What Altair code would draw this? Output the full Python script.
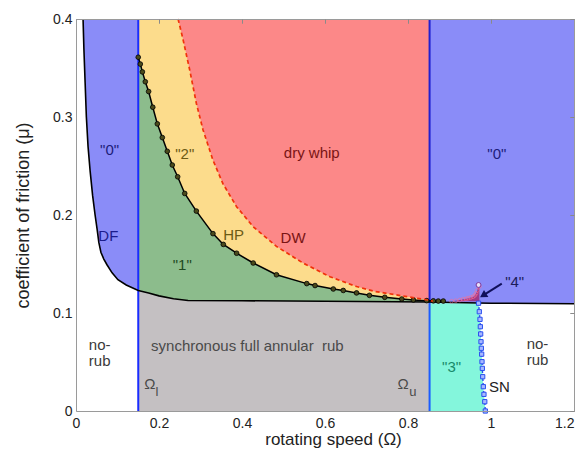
import altair as alt
import pandas as pd

# ---------------- data ----------------
# DF boundary (black solid, left)
df_x = [0.017, 0.019, 0.022, 0.025, 0.029, 0.034, 0.040, 0.046, 0.051, 0.055, 0.060, 0.067, 0.075, 0.087, 0.101, 0.121, 0.150]
df_y = [0.400, 0.370, 0.335, 0.300, 0.270, 0.245, 0.220, 0.200, 0.185, 0.172, 0.162, 0.155, 0.149, 0.141, 0.134, 0.1286, 0.123]

# lower boundary of rub regions (black solid)
bnd_x = [0.150, 0.175, 0.200, 0.235, 0.270, 0.400, 0.600, 0.852, 1.000, 1.200]
bnd_y = [0.123, 0.1205, 0.1175, 0.1145, 0.1128, 0.1125, 0.1120, 0.1112, 0.1100, 0.1095]

# HP curve (black with dots)
hp_x = [0.150, 0.155, 0.160, 0.167, 0.175, 0.185, 0.196, 0.208, 0.220, 0.232, 0.245, 0.262, 0.290, 0.330,
        0.355, 0.387, 0.427, 0.483, 0.556, 0.576, 0.620, 0.644, 0.676, 0.707, 0.744, 0.785, 0.813, 0.845,
        0.861, 0.873, 0.885]
hp_y = [0.361, 0.354, 0.346, 0.336, 0.326, 0.310, 0.293, 0.279, 0.265, 0.251, 0.239, 0.222, 0.204, 0.181,
        0.170, 0.161, 0.151, 0.139, 0.130, 0.128, 0.1245, 0.123, 0.1205, 0.118, 0.116, 0.1143, 0.1133, 0.1126,
        0.1124, 0.1122, 0.1122]

# DW curve (red dashed)
dw_x = [0.246, 0.258, 0.274, 0.290, 0.306, 0.330, 0.354, 0.387, 0.427, 0.483, 0.547, 0.612, 0.676, 0.720, 0.765, 0.800, 0.845, 0.860]
dw_y = [0.400, 0.379, 0.348, 0.314, 0.287, 0.256, 0.232, 0.2085, 0.188, 0.168, 0.151, 0.137, 0.127, 0.122, 0.119, 0.1165, 0.1135, 0.112]

# SN curve (blue dotted with squares)
sn_x = [0.9700, 0.9718, 0.9735, 0.9743, 0.9751, 0.9759, 0.9767, 0.9775, 0.9783, 0.9791, 0.9800, 0.9815, 0.9830, 0.9850, 0.9863]
sn_y = [0.1100, 0.1013, 0.0935, 0.0860, 0.0786, 0.0707, 0.0640, 0.0580, 0.0503, 0.0435, 0.0350, 0.0248, 0.0170, 0.0095, 0.0000]

# region "4" spike
sp_x = [0.905, 0.915, 0.925, 0.933, 0.940, 0.945, 0.951, 0.957, 0.961, 0.964, 0.967, 0.970, 0.972]
sp_y = [0.112, 0.1125, 0.1133, 0.114, 0.1145, 0.115, 0.1158, 0.1166, 0.118, 0.120, 0.123, 0.1286, 0.127]
peak_x = [0.970]
peak_y = [0.1286]

omega_l = 0.15
omega_u = 0.852
mu_max = 0.4
x_max = 1.2

x_ticks = [0, 0.2, 0.4, 0.6, 0.8, 1.0, 1.2]
y_ticks = [0, 0.1, 0.2, 0.3, 0.4]

# annotations: text, x, y, colour
ann_text = ['"0"', 'DF', '"2"', 'HP', 'dry whip', 'DW', '"1"', '"0"', '"4"', '"3"',
            'synchronous full annular \u00a0rub', 'no-', 'rub', 'no-', 'rub', 'SN', '\u03a9', '\u03a9']
ann_x = [0.081, 0.078, 0.262, 0.380, 0.568, 0.523, 0.256, 1.014, 1.057, 0.905,
         0.413, 0.057, 0.057, 1.112, 1.112, 1.020, 0.178, 0.788]
ann_y = [0.266, 0.179, 0.262, 0.1796, 0.263, 0.177, 0.149, 0.262, 0.132, 0.0444,
         0.066, 0.067, 0.051, 0.068, 0.052, 0.024, 0.0276, 0.0276]
ann_col = ['#1c1c7a', '#1c1c8c', '#6b5a14', '#6b5a14', '#7a1414', '#7a1414', '#1f4a1f', '#1c1c7a', '#1c1c5a', '#188a6a',
           '#4a4a4a', '#3a3a3a', '#3a3a3a', '#3a3a3a', '#3a3a3a', '#222222', '#4a4a4a', '#4a4a4a']
sub_text = ['l', 'u']
sub_x = [0.195, 0.812]
sub_y = [0.019, 0.019]

arrow_x = [1.026, 0.981]
arrow_y = [0.130, 0.118]

FONT = "Liberation Sans"

# ---------------- tables ----------------
df_tab = pd.DataFrame({"x": df_x, "y": df_y})
hp_tab = pd.DataFrame({"x": hp_x, "y": hp_y})
dw_tab = pd.DataFrame({"x": dw_x, "y": dw_y})
bnd_tab = pd.DataFrame({"x": bnd_x, "y": bnd_y})
sn_tab = pd.DataFrame({"x": sn_x, "y": sn_y, "x0": omega_u})
sp_tab = pd.DataFrame({"x": sp_x, "y": sp_y, "y0": 0.112})
peak_tab = pd.DataFrame({"x": peak_x, "y": peak_y})
green_tab = pd.DataFrame({"x": [v for v in hp_x if v <= omega_u] + [omega_u],
                          "y": [hp_y[i] for i, v in enumerate(hp_x) if v <= omega_u] + [0.1125]})
gray_tab = pd.DataFrame({"x": [v for v in bnd_x if v <= omega_u],
                         "y": [bnd_y[i] for i, v in enumerate(bnd_x) if v <= omega_u]})
red_tab = pd.DataFrame({"x": dw_x[:-1] + [omega_u], "y": dw_y[:-1] + [0.112]})
black_tab = pd.DataFrame({"x": df_x + bnd_x[1:], "y": df_y + bnd_y[1:]})
black_tab["o"] = range(len(black_tab))
yellow_tab = pd.DataFrame({"x": [omega_l], "x2": [omega_u], "y": [0.11], "y2": [mu_max]})
blue_r_tab = pd.DataFrame({"x": [omega_u], "x2": [x_max], "y": [0.1098], "y2": [mu_max]})
vline_tab = pd.DataFrame({"x": [omega_l, omega_u, omega_u], "y": [0, 0.1105, 0], "y2": [mu_max, mu_max, 0.1105],
                          "c": ["#1a2cff", "#2020d0", "#1a5cff"]})
ann_tab = pd.DataFrame({"t": ann_text, "x": ann_x, "y": ann_y, "c": ann_col})
sub_tab = pd.DataFrame({"t": sub_text, "x": sub_x, "y": sub_y})
arrow_tab = pd.DataFrame({"x": arrow_x, "y": arrow_y})

xs = alt.Scale(domain=[0, x_max], nice=False, zero=False)
ys = alt.Scale(domain=[0, mu_max], nice=False, zero=False)

common = dict(grid=False, zindex=1, labelFont=FONT, titleFont=FONT, labelFlush=False)


def X(field="x", axis=None):
    return alt.X(field, type="quantitative", scale=xs, axis=axis)


def Y(field="y", axis=None):
    return alt.Y(field, type="quantitative", scale=ys, axis=axis)


ax_x_main = alt.Axis(values=x_ticks, format=".1~f", ticks=False, domain=True, domainColor="#9a9a9a",
                     labelPadding=5, labelFontSize=14, labelColor="#222",
                     labelAlign=alt.condition("datum.value >= 1.15", alt.value("right"), alt.value("center")),
                     title="rotating speed (\u03a9)",
                     titleFontSize=17, titleFontWeight="normal", titleColor="#222",
                     titleBaseline="alphabetic", titleX=257, titleY=33, **common)
ax_y_main = alt.Axis(values=y_ticks, format=".1~f", ticks=False, domain=True, domainColor="#9a9a9a",
                     labelPadding=4, labelFontSize=14, labelColor="#222", title="coefficient of friction (\u03bc)",
                     titleFontSize=18, titleFontWeight="normal", titleColor="#222", titlePadding=20, **common)
ax_x_tick = alt.Axis(values=x_ticks, labels=False, ticks=True, tickSize=4, tickColor="#8a8a8a", domain=False,
                     offset=-4, title="", **common)
ax_y_tick = alt.Axis(values=y_ticks, labels=False, ticks=True, tickSize=4, tickColor="#8a8a8a", domain=False,
                     offset=-4, title="", **common)
ax_x_top = alt.Axis(orient="top", values=x_ticks, labels=False, ticks=False, domain=True, domainColor="#9a9a9a",
                    title="", **common)
ax_y_right = alt.Axis(orient="right", values=y_ticks, labels=False, ticks=False, domain=True, domainColor="#9a9a9a",
                      title="", **common)
ax_x_top_tick = alt.Axis(orient="top", values=x_ticks, labels=False, ticks=True, tickSize=4, tickColor="#8a8a8a",
                         domain=False, offset=-4, title="", **common)
ax_y_right_tick = alt.Axis(orient="right", values=y_ticks, labels=False, ticks=True, tickSize=4, tickColor="#8a8a8a",
                           domain=False, offset=-4, title="", **common)

# ---------------- fills ----------------
yellow = alt.Chart(yellow_tab).mark_rect(color="#fcdc8c").encode(
    x=X("x", ax_x_main), x2="x2", y=Y("y", ax_y_main), y2="y2")
red = alt.Chart(red_tab).mark_area(color="#fc8888", clip=True).encode(
    x=X("x", ax_x_tick), y=Y("y", ax_y_tick), y2=alt.datum(mu_max))
green = alt.Chart(green_tab).mark_area(color="#8cbc8c").encode(
    x=X("x", ax_x_top), y=Y("y", ax_y_right), y2=alt.datum(0))
gray = alt.Chart(gray_tab).mark_area(color="#c4c0c2").encode(
    x=X("x", ax_x_top_tick), y=Y("y", ax_y_right_tick), y2=alt.datum(0))
blue_r = alt.Chart(blue_r_tab).mark_rect(color="#8a8cf8").encode(
    x=X(), x2="x2", y=Y(), y2="y2")
blue_l = alt.Chart(df_tab).mark_area(color="#8a8cf8").encode(
    x=X(), y=Y(), y2=alt.datum(mu_max))
cyan = alt.Chart(sn_tab).mark_area(orient="horizontal", color="#84f6dc").encode(
    y=Y(), x=X("x0"), x2="x")

# ---------------- lines ----------------
vlines = alt.Chart(vline_tab).mark_rule(strokeWidth=2).encode(
    x=X(), y=Y(), y2="y2", color=alt.Color("c:N", scale=None))
black = alt.Chart(black_tab).mark_line(color="#000000", strokeWidth=1.6).encode(
    x=X(), y=Y(), order="o:Q")
hp_line = alt.Chart(hp_tab).mark_line(color="#000000", strokeWidth=1.5).encode(x=X(), y=Y())
hp_dots = alt.Chart(hp_tab).mark_point(shape="circle", filled=True, size=22, fill="#4a4a1c",
                                       stroke="#000000", strokeWidth=0.8, opacity=1).encode(x=X(), y=Y())
dw_line = alt.Chart(dw_tab).mark_line(color="#f0320a", strokeWidth=1.7, strokeDash=[4, 3]).encode(x=X(), y=Y())
sn_line = alt.Chart(sn_tab).mark_line(color="#2a50f0", strokeWidth=1.4, strokeDash=[2, 2]).encode(x=X(), y=Y())
sn_pts = alt.Chart(sn_tab).mark_point(shape="square", filled=True, size=18, fill="#a8b8ff",
                                      stroke="#2a50f0", strokeWidth=1, opacity=1).encode(x=X(), y=Y())
spike = alt.Chart(sp_tab).mark_area(color="#a0307a", opacity=0.9).encode(x=X(), y=Y(), y2="y0")
spike_pts = alt.Chart(sp_tab).mark_point(shape="circle", filled=False, size=14, color="#ff7090",
                                         strokeWidth=0.8).encode(x=X(), y=Y())
peak = alt.Chart(peak_tab).mark_point(shape="circle", filled=True, size=24, fill="#e8e0f8",
                                      stroke="#7a3aa0", strokeWidth=1, opacity=1).encode(x=X(), y=Y())
arrow_line = alt.Chart(arrow_tab).mark_line(color="#10105a", strokeWidth=2).encode(x=X(), y=Y())
arrow_head = alt.Chart(arrow_tab.tail(1)).mark_point(shape="triangle-up", filled=True, size=70, angle=238,
                                                     color="#10105a", opacity=1).encode(x=X(), y=Y())

# ---------------- text ----------------
texts = alt.Chart(ann_tab).mark_text(font=FONT, fontSize=15, align="center", baseline="middle").encode(
    x=X(), y=Y(), text="t:N", color=alt.Color("c:N", scale=None))
subs = alt.Chart(sub_tab).mark_text(font=FONT, fontSize=13, align="center", baseline="middle",
                                    color="#4a4a4a").encode(x=X(), y=Y(), text="t:N")

chart = alt.layer(
    yellow, red, green, gray, blue_r, blue_l, cyan,
    vlines, black, hp_line, hp_dots, dw_line, spike, spike_pts, sn_line, sn_pts, peak,
    arrow_line, arrow_head, texts, subs
).resolve_axis(x="independent", y="independent").properties(
    width=498, height=392,
    autosize=alt.AutoSizeParams(type="none"),
    padding={"left": 68, "top": 11, "right": 1, "bottom": 38},
).configure_view(stroke=None).configure(background="white")

chart.save("out.html", embed_options={"renderer": "svg", "actions": False})
